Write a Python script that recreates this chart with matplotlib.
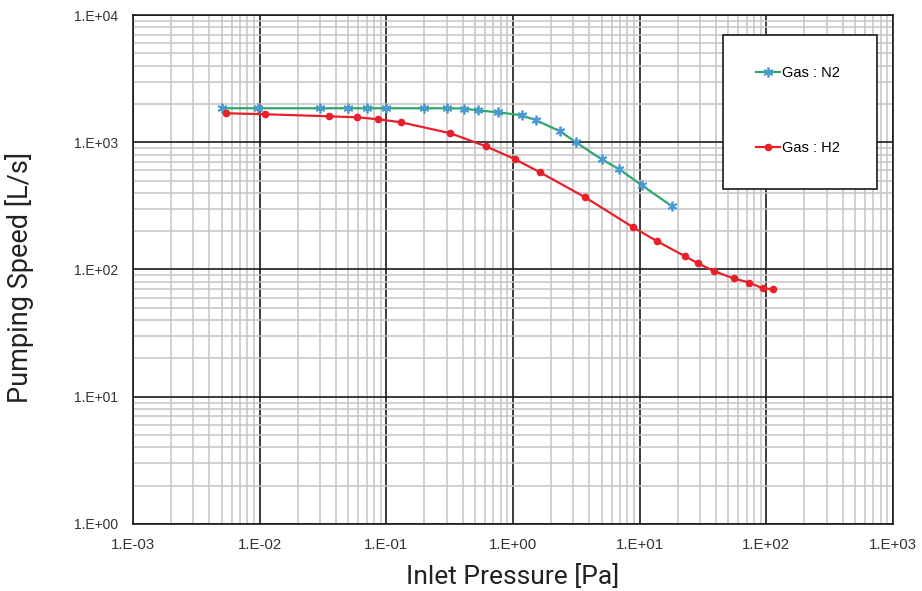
import numpy as np
import matplotlib.pyplot as plt
from matplotlib.patches import Rectangle
from matplotlib.ticker import LogLocator, FixedFormatter, NullFormatter

# ==========================================
# Data
# ==========================================

n2_pressure = [0.005, 0.0097, 0.03, 0.05, 0.07, 0.1, 0.2, 0.3, 0.41, 0.53,
               0.76, 1.17, 1.52, 2.35, 3.14, 5.0, 6.9, 10.4, 18.0]
n2_speed = [1850, 1850, 1850, 1850, 1850, 1850, 1850, 1850, 1840, 1780,
            1720, 1630, 1490, 1220, 1000, 735, 614, 459, 314]

h2_pressure = [0.0054, 0.011, 0.035, 0.059, 0.086, 0.13, 0.32, 0.61, 1.04,
               1.63, 3.7, 8.85, 13.7, 22.8, 28.8, 38.6, 55.5, 73, 94, 113]
h2_speed = [1690, 1660, 1600, 1570, 1516, 1436, 1177, 930, 735, 581, 370,
            215, 167, 127, 112, 97, 85, 79, 71, 70]

x_ticks = [1e-3, 1e-2, 1e-1, 1e0, 1e1, 1e2, 1e3]
x_labels = ["1.E-03", "1.E-02", "1.E-01", "1.E+00", "1.E+01", "1.E+02", "1.E+03"]
y_ticks = [1e0, 1e1, 1e2, 1e3, 1e4]
y_labels = ["1.E+00", "1.E+01", "1.E+02", "1.E+03", "1.E+04"]

# ==========================================
# Figure
# ==========================================

fig = plt.figure(figsize=(9.22, 5.91), dpi=100)
ax = fig.add_axes([0.1443, 0.1134, 0.8242, 0.8612])

ax.set_xscale("log")
ax.set_yscale("log")

ax.plot(n2_pressure, n2_speed, color="#2ea86a", linewidth=1.6,
        marker=(6, 2, 0), markersize=7, markeredgecolor="#4a9bd1",
        markeredgewidth=1.3, label="Gas : N2", zorder=3)
ax.plot(h2_pressure, h2_speed, color="#e8202a", linewidth=1.6,
        marker="o", markersize=4.5, markeredgecolor="#e8202a",
        label="Gas : H2", zorder=4)

# grid
ax.xaxis.set_minor_locator(LogLocator(base=10, subs=np.arange(2, 10), numticks=20))
ax.yaxis.set_minor_locator(LogLocator(base=10, subs=np.arange(2, 10), numticks=20))
ax.set_xticks(x_ticks)
ax.set_yticks(y_ticks)
ax.xaxis.set_major_formatter(FixedFormatter(x_labels))
ax.yaxis.set_major_formatter(FixedFormatter(y_labels))
ax.xaxis.set_minor_formatter(NullFormatter())
ax.yaxis.set_minor_formatter(NullFormatter())
ax.set_xlim(1e-3, 1e3)
ax.set_ylim(1e0, 1e4)

ax.grid(which="minor", color="#c4c4c4", linewidth=1.1)
ax.grid(which="major", color="#1a1a1a", linewidth=1.2)
ax.set_axisbelow(True)
ax.tick_params(which="both", length=0)
ax.tick_params(axis="x", labelsize=10.8, colors="#333333", pad=10)
ax.tick_params(axis="y", labelsize=10, colors="#333333", pad=11)
for lbl in ax.get_xticklabels() + ax.get_yticklabels():
    lbl.set_family("Liberation Sans")
for s in ax.spines.values():
    s.set_color("#1a1a1a")
    s.set_linewidth(1.2)

ax.set_xlabel("Inlet Pressure [Pa]", fontsize=19, family="Roboto",
              color="#222222")
ax.set_ylabel("Pumping Speed [L/s]", fontsize=19.5, family="Roboto",
              color="#222222")
ax.xaxis.set_label_coords(0.5, -0.079)
ax.yaxis.set_label_coords(-0.130, 0.485)

# legend box
ax.add_patch(Rectangle((0.776, 0.658), 0.203, 0.303, transform=ax.transAxes,
                       facecolor="white", edgecolor="#1a1a1a", linewidth=1.2,
                       zorder=5))
leg = ax.legend(loc="upper left", bbox_to_anchor=(0.8197, 0.8992), frameon=False,
                prop={"family": "Liberation Sans", "size": 10.5},
                handlelength=1.65, handletextpad=0.15,
                labelspacing=4.15, borderpad=0, borderaxespad=0)
leg.set_zorder(6)

fig.savefig("out.png", dpi=100)
